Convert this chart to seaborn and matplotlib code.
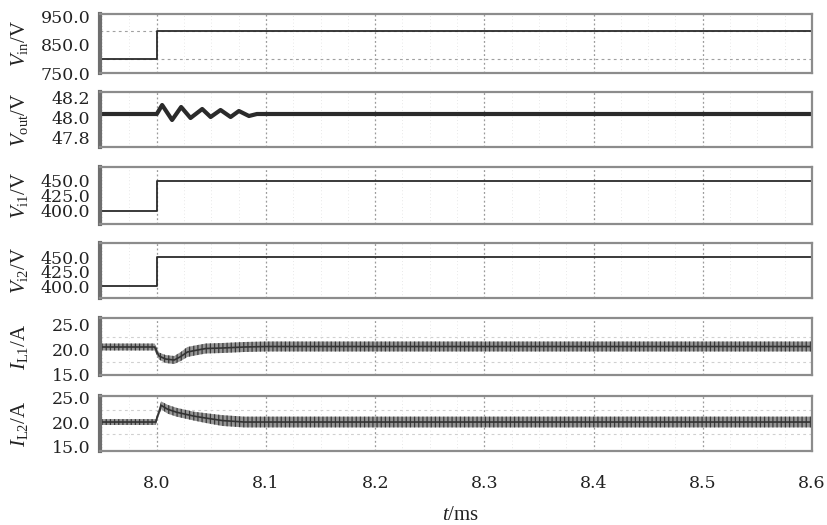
import numpy as np
import pandas as pd
import matplotlib
matplotlib.use("Agg")
import matplotlib.pyplot as plt
from matplotlib.ticker import MultipleLocator, FixedLocator
import seaborn as sns

# ---------------- data ----------------
t_step = [7.948, 8.0, 8.0, 8.6]
vin = [800.0, 800.0, 900.0, 900.0]
vi1 = [400.0, 400.0, 450.0, 450.0]
vi2 = [400.0, 400.0, 450.0, 450.0]

t_vout = [7.948, 8.0, 8.0049, 8.014, 8.0223, 8.0309, 8.0416, 8.0493,
          8.0584, 8.0676, 8.0752, 8.0844, 8.0917, 8.6]
vout = [48.03, 48.03, 48.12, 47.97, 48.10, 47.99, 48.08, 48.00,
        48.07, 48.00, 48.06, 48.01, 48.03, 48.03]

t_il1 = [7.948, 7.998, 8.002, 8.008, 8.016, 8.022, 8.028, 8.035,
         8.045, 8.06, 8.08, 8.1, 8.6]
il1_mid = [20.5, 20.5, 18.7, 18.1, 17.9, 18.6, 19.5, 19.8,
           20.2, 20.3, 20.5, 20.6, 20.6]
il1_half = [0.7, 0.7, 0.7, 0.8, 0.8, 0.9, 1.0, 1.0,
            1.0, 1.0, 1.0, 1.0, 1.0]

t_il2 = [7.948, 7.999, 8.004, 8.010, 8.018, 8.026, 8.034, 8.045,
         8.06, 8.08, 8.6]
il2_mid = [20.0, 20.0, 23.4, 22.6, 22.0, 21.6, 21.2, 20.8,
           20.3, 20.0, 20.0]
il2_half = [0.6, 0.6, 0.8, 0.9, 0.9, 0.9, 0.9, 1.0,
            1.1, 1.1, 1.1]

x_ticks = [8.0, 8.1, 8.2, 8.3, 8.4, 8.5, 8.6]
x_tick_labels = ["8.0", "8.1", "8.2", "8.3", "8.4", "8.5", "8.6"]

panels = [
    dict(label=r"$V_{\mathrm{in}}$/V", ticks=[750, 850, 950],
         tl=["750.0", "850.0", "950.0"], ylim=(750, 960), grid=50, gc="#a0a0a0"),
    dict(label=r"$V_{\mathrm{out}}$/V", ticks=[47.8, 48.0, 48.2],
         tl=["47.8", "48.0", "48.2"], ylim=(47.70, 48.25), grid=0.2, gc="#a0a0a0"),
    dict(label=r"$V_{\mathrm{i1}}$/V", ticks=[400, 425, 450],
         tl=["400.0", "425.0", "450.0"], ylim=(378, 473), grid=25, gc="#a0a0a0"),
    dict(label=r"$V_{\mathrm{i2}}$/V", ticks=[400, 425, 450],
         tl=["400.0", "425.0", "450.0"], ylim=(380, 474), grid=25, gc="#a0a0a0"),
    dict(label=r"$I_{\mathrm{L1}}$/A", ticks=[15, 20, 25],
         tl=["15.0", "20.0", "25.0"], ylim=(14.9, 26.3), grid=2.5, gc="#d0d0d0"),
    dict(label=r"$I_{\mathrm{L2}}$/A", ticks=[15, 20, 25],
         tl=["15.0", "20.0", "25.0"], ylim=(14.1, 25.3), grid=2.5, gc="#d0d0d0"),
]

# pixel (top, bottom) of each panel
pix = [(14, 73), (92, 147), (167, 224), (243, 298), (318, 375), (396, 451)]

# ---------------- style ----------------
sns.set_theme(style="white")
plt.rcParams["font.family"] = ["DejaVu Serif"]
plt.rcParams["mathtext.fontset"] = "custom"
plt.rcParams["mathtext.rm"] = "Liberation Serif"
plt.rcParams["mathtext.it"] = "Liberation Serif:italic"
plt.rcParams["hatch.linewidth"] = 0.9

W, H = 828, 525
fig = plt.figure(figsize=(W / 100, H / 100), dpi=100)

L, R = 100, 812
axes = []
for i, ((top, bot), p) in enumerate(zip(pix, panels)):
    ax = fig.add_axes([L / W, 1 - bot / H, (R - L) / W, (bot - top) / H])
    ax.set_xlim(7.948, 8.6)
    ax.set_ylim(*p["ylim"])
    ax.yaxis.set_major_locator(FixedLocator(p["ticks"]))
    ax.set_yticklabels(p["tl"])
    ax.yaxis.set_minor_locator(MultipleLocator(p["grid"]))
    ax.xaxis.set_major_locator(FixedLocator(x_ticks))
    ax.xaxis.set_minor_locator(MultipleLocator(0.025))
    ax.tick_params(axis="both", which="both", length=0, labelsize=12.5,
                   colors="#222222")
    ax.tick_params(axis="y", pad=7)
    ax.tick_params(axis="x", pad=17)
    ax.grid(False)
    ax.yaxis.grid(True, which="minor", color=p["gc"], linestyle=(0, (2.5, 3.0)), lw=0.8)
    ax.xaxis.grid(True, which="major", color="#9a9a9a", linestyle=(0, (1.5, 2.0)), lw=0.9)
    ax.xaxis.grid(True, which="minor", color="#e0e0e0", linestyle=(0, (1, 3)), lw=0.6)
    for s in ["top", "right", "bottom"]:
        ax.spines[s].set_color("#8c8c8c")
        ax.spines[s].set_linewidth(1.6)
    ax.spines["left"].set_color("#6e6e6e")
    ax.spines["left"].set_linewidth(3.0)
    ax.set_axisbelow(True)
    if i < 5:
        ax.set_xticklabels([])
    else:
        ax.set_xticklabels(x_tick_labels)
    axes.append(ax)
    fig.text(20 / W, 1 - (top + bot) / 2 / H, p["label"], rotation=90,
             ha="center", va="center", fontsize=15, color="#222222",
             family="Liberation Serif")

line_col = "#2b2b2b"
sns.lineplot(x=t_step, y=vin, ax=axes[0], color=line_col, lw=1.3,
             estimator=None, sort=False)
sns.lineplot(x=t_vout, y=vout, ax=axes[1], color=line_col, lw=3.0,
             estimator=None, sort=False)
sns.lineplot(x=t_step, y=vi1, ax=axes[2], color=line_col, lw=1.3,
             estimator=None, sort=False)
sns.lineplot(x=t_step, y=vi2, ax=axes[3], color=line_col, lw=1.3,
             estimator=None, sort=False)

for ax, t, mid, half in [(axes[4], t_il1, il1_mid, il1_half),
                         (axes[5], t_il2, il2_mid, il2_half)]:
    mid = np.array(mid)
    half = np.array(half)
    ax.fill_between(t, mid - half, mid + half, facecolor="#8a8a8a",
                    edgecolor="#2e2e2e", hatch="||||", linewidth=0, alpha=0.9)
    sns.lineplot(x=t, y=mid, ax=ax, color="#333333", lw=1.2,
                 estimator=None, sort=False)

for ax in axes:
    ax.set_xlabel("")
    ax.set_ylabel("")

fig.text(461 / W, 1 - 516 / H, r"$t$/ms", ha="center", va="center",
         fontsize=15, color="#222222", family="Liberation Serif")

fig.savefig("out.png", dpi=100)
